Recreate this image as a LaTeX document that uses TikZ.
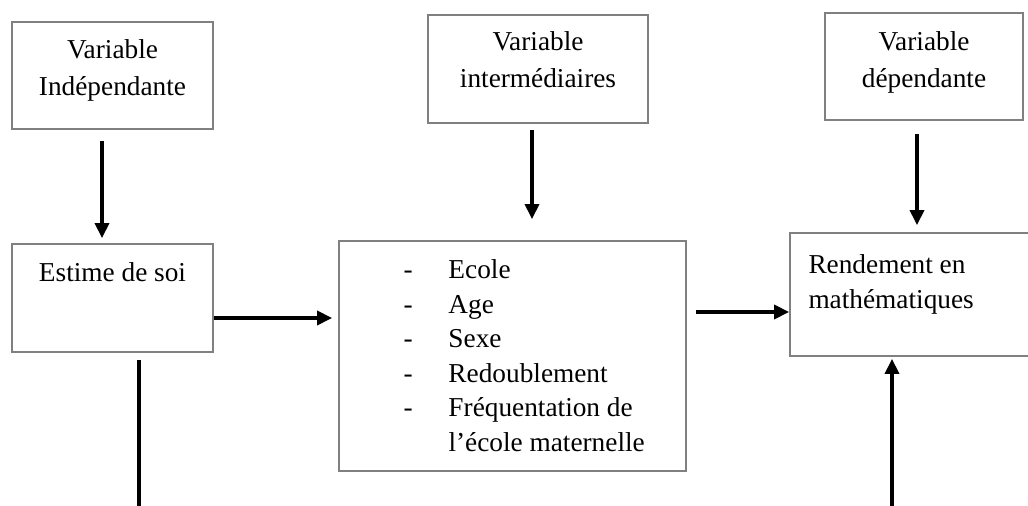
\documentclass[tikz,border=0pt]{standalone}
\usepackage{fontspec}
\setmainfont{Liberation Serif}
\usetikzlibrary{positioning, arrows.meta, fit}

\newcommand{\listdash}{\makebox[22.5pt][l]{-}}

\begin{document}
\begin{tikzpicture}[
        x=0.5pt, y=-0.5pt,
        box/.style={draw=black!50, line width=0.9pt, inner sep=0pt},
        lbl/.style={inner sep=0pt, font=\fontsize{13.65}{18.5}\selectfont, align=center},
        lst/.style={inner sep=0pt, font=\fontsize{13.65}{17.3}\selectfont, align=left},
        arr/.style={line width=1.7pt, -{Triangle[length=7.5pt, width=7pt]}},
        stub/.style={line width=1.7pt},
    ]
    \clip (0,0) rectangle (1028,506);

    % === TOP ROW: kinds of variable ===
    \node[box, fit={(12,22) (213,129)}] (indep) {};
    \node[box, fit={(428,15) (648,123)}] (interm) {};
    \node[box, fit={(825,13) (1023,120)}] (dep) {};

    \node[lbl, below=9pt of indep.north] (indeptxt) {Variable\\Indépendante};
    \node[lbl, below=8.5pt of interm.north] (intermtxt) {Variable\\intermédiaires};
    \node[lbl, below=9.5pt of dep.north] (deptxt) {Variable\\dépendante};

    % === BOTTOM ROW ===
    \node[box, fit={(12,244) (213,352)}] (estime) {};
    \node[box, fit={(339,241) (686,471)}] (facteurs) {};
    \node[box, fit={(790,233) (1040,356)}] (rend) {};

    \node[lbl, below=9.5pt of estime.north] (estimetxt) {Estime de soi};
    \node[lst, below right=9.5pt and 32.5pt of facteurs.north west] (facteurstxt) {
        \listdash Ecole\\
        \listdash Age\\
        \listdash Sexe\\
        \listdash Redoublement\\
        \listdash Fréquentation de\\
        \hspace*{22.5pt}l’école maternelle};
    \node[lst, below right=11pt and 9.5pt of rend.north west] (rendtxt) {Rendement en\\mathématiques};

    % free ends at the bottom edge
    \coordinate (bas1) at (139,510);
    \coordinate (bas2) at (892,510);

    % Vertical arrows
    \draw[arr, shorten <=5.5pt, shorten >=2.5pt] ([xshift=-5.25pt]indep.south) -- ([xshift=-5.25pt]indep.south |- estime.north);
    \draw[arr, shorten <=3pt, shorten >=10.5pt] ([xshift=-3pt]interm.south) -- ([xshift=-3pt]interm.south |- facteurs.north);
    \draw[arr, shorten <=6.5pt, shorten >=3.5pt] ([xshift=-3.5pt]dep.south) -- ([xshift=-3.5pt]dep.south |- rend.north);

    % Horizontal arrows
    \draw[arr, shorten >=3pt] ([yshift=-10pt]estime.east) -- ([yshift=-10pt]estime.east -| facteurs.west);
    \draw[arr, shorten <=4.5pt] ([yshift=-8.75pt]rend.west -| facteurs.east) -- ([yshift=-8.75pt]rend.west);

    % Lines leaving the picture
    \draw[stub, shorten <=3.75pt] (estime.south -| bas1) -- (bas1);
    \draw[arr, shorten >=1pt] (bas2) -- (bas2 |- rend.south);

\end{tikzpicture}
\end{document}
